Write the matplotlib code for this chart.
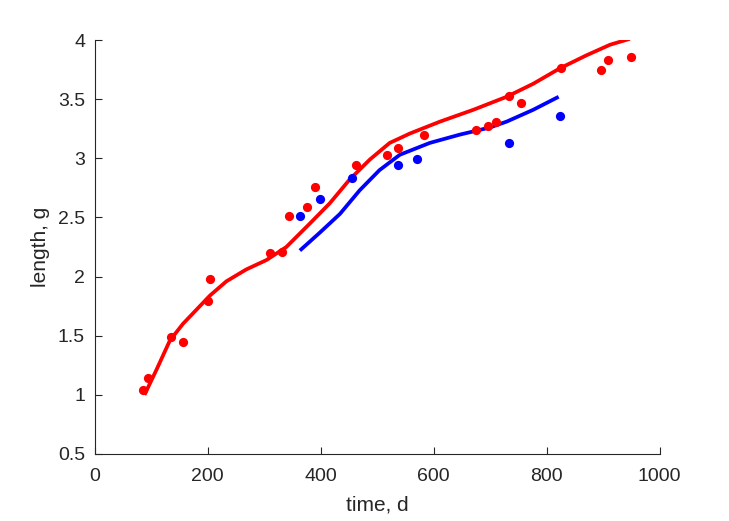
import matplotlib.pyplot as plt
import numpy as np

plt.rcParams['font.family'] = ['Liberation Sans', 'DejaVu Sans']

# measured points
red_t = [85, 94, 135, 156, 200, 204, 311, 331, 343, 375, 389, 462, 518, 536, 582,
         674, 696, 710, 733, 754, 825, 896, 908, 949]
red_g = [1.04, 1.14, 1.49, 1.45, 1.79, 1.98, 2.20, 2.21, 2.51, 2.59, 2.76, 2.94, 3.03, 3.09, 3.20,
         3.24, 3.27, 3.31, 3.53, 3.47, 3.76, 3.75, 3.83, 3.86]
blue_t = [363, 398, 455, 536, 570, 733, 823]
blue_g = [2.51, 2.66, 2.83, 2.94, 2.99, 3.13, 3.36]

# fitted curves
red_fit_t = [88, 109, 133, 156, 180, 204, 233, 268, 304, 339, 381, 416, 451, 487,
             522, 558, 611, 670, 729, 776, 823, 870, 912, 947]
red_fit_g = [1.0, 1.21, 1.46, 1.60, 1.72, 1.84, 1.96, 2.06, 2.14, 2.25, 2.45, 2.62, 2.82, 2.99,
             3.13, 3.21, 3.31, 3.41, 3.52, 3.63, 3.76, 3.87, 3.96, 4.01]
blue_fit_t = [363, 398, 434, 469, 504, 540, 593, 646, 699, 729, 776, 821]
blue_fit_g = [2.22, 2.37, 2.53, 2.73, 2.90, 3.03, 3.13, 3.20, 3.26, 3.31, 3.41, 3.52]

ink = (0.15, 0.15, 0.15)

fig = plt.figure(figsize=(7.29, 5.21), dpi=100)
ax = fig.add_axes([0.130, 0.1286, 0.775, 0.7946])

ax.plot(red_fit_t, red_fit_g, color='red', lw=2.7, solid_capstyle='butt', solid_joinstyle='round')
ax.plot(blue_fit_t, blue_fit_g, color='blue', lw=2.7, solid_capstyle='butt', solid_joinstyle='round')
ax.scatter(red_t, red_g, s=44, color='red', zorder=3, linewidths=0)
ax.scatter(blue_t, blue_g, s=44, color='blue', zorder=3, linewidths=0)

ax.set_xlim(0, 1000)
ax.set_ylim(0.5, 4)
ax.set_xticks([0, 200, 400, 600, 800, 1000])
ax.set_yticks([0.5, 1, 1.5, 2, 2.5, 3, 3.5, 4])
ax.set_yticklabels(['0.5', '1', '1.5', '2', '2.5', '3', '3.5', '4'])
ax.spines['top'].set_visible(False)
ax.spines['right'].set_visible(False)
for s in ['left', 'bottom']:
    ax.spines[s].set_color(ink)
    ax.spines[s].set_linewidth(0.8)
ax.tick_params(direction='in', length=5, width=0.8, colors=ink, labelsize=14, pad=7)
ax.tick_params(axis='x', pad=10)
ax.set_xlabel('time, d', fontsize=15, color=ink, labelpad=8)
ax.set_ylabel('length, g', fontsize=15, color=ink, labelpad=6)

fig.savefig('out.png', dpi=100)
